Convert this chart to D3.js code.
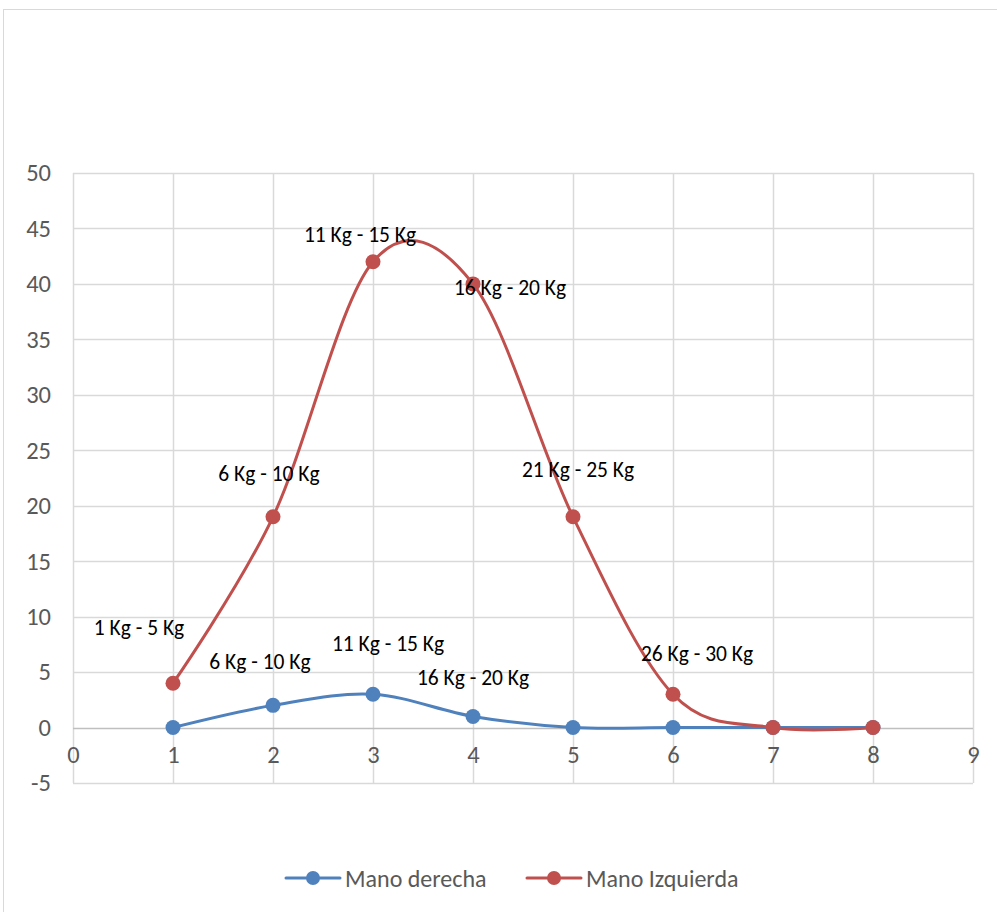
<!DOCTYPE html>
<html><head><meta charset="utf-8">
<script src="https://cdn.jsdelivr.net/npm/d3@7/dist/d3.min.js"></script>
<style>body{margin:0;background:#fff;}svg{display:block;font-family:Carlito,Calibri,Lato,"Open Sans","Noto Sans",sans-serif;}</style>
</head><body><svg id="c" width="997" height="912"></svg>
<script>
const xValues = [1,2,3,4,5,6,7,8];
const categories = ["1 Kg - 5 Kg","6 Kg - 10 Kg","11 Kg - 15 Kg","16 Kg - 20 Kg","21 Kg - 25 Kg","26 Kg - 30 Kg","",""];
const manoDerecha = [0,2,3,1,0,0,0,0];
const manoIzquierda = [4,19,42,40,19,3,0,0];
const xTicks = [0,1,2,3,4,5,6,7,8,9];
const yTicks = [-5,0,5,10,15,20,25,30,35,40,45,50];
const seriesNames = ["Mano derecha","Mano Izquierda"];
const colors = ["#4f81bd","#c0504d"];
// label layout: [series, index, dx, dy]
const labelLayout = [
  [1,0,-34,-55],[1,1,-4,-43],[1,2,-13,-27],[1,3,37,4],[1,4,5,-47],[1,5,24,-40],
  [0,1,-13,-43],[0,2,15,-50],[0,3,0,-38]
];

const svg = d3.select("#c");
svg.append("rect").attr("x",3.5).attr("y",9.5).attr("width",1000).attr("height",910)
  .attr("fill","#fff").attr("stroke","#d9d9d9").attr("stroke-width",1);

const x = d3.scaleLinear().domain([0,9]).range([73,973]);
const y = d3.scaleLinear().domain([-5,50]).range([783,173]);

const g = svg.append("g");
g.selectAll(".vg").data(xTicks).enter().append("line")
  .attr("x1",d=>Math.round(x(d))+0.5).attr("x2",d=>Math.round(x(d))+0.5)
  .attr("y1",y(50)).attr("y2",y(-5)).attr("stroke","#d9d9d9").attr("stroke-width",1.5);
g.selectAll(".hg").data(yTicks).enter().append("line")
  .attr("x1",x(0)).attr("x2",x(9))
  .attr("y1",d=>Math.round(y(d))+0.5).attr("y2",d=>Math.round(y(d))+0.5)
  .attr("stroke",d=>d===0?"#bfbfbf":"#d9d9d9").attr("stroke-width",1.5);

const yAxis = d3.axisLeft(y).tickValues(yTicks).tickSize(0).tickPadding(22).tickFormat(d=>String(d));
const ya = g.append("g").attr("transform",`translate(${x(0)},0)`).call(yAxis)
  .attr("font-family",null).attr("font-size",null);
ya.select(".domain").remove();
ya.selectAll("text").attr("font-size",24.5).attr("fill","#595959");

const xAxis = d3.axisBottom(x).tickValues(xTicks).tickSize(0).tickPadding(18.5).tickFormat(d=>String(d));
const xa = g.append("g").attr("transform",`translate(0,${y(0)})`).call(xAxis)
  .attr("font-family",null).attr("font-size",null);
xa.select(".domain").remove();
xa.selectAll("text").attr("font-size",24.5).attr("fill","#595959");

const seriesData = [manoDerecha, manoIzquierda];
const line = d3.line().x((d,i)=>x(xValues[i])).y(d=>y(d)).curve(d3.curveCardinal.tension(0));
seriesData.forEach((s,k)=>{
  g.append("path").datum(s).attr("d",line).attr("fill","none")
    .attr("stroke",colors[k]).attr("stroke-width",3).attr("stroke-linecap","round");
});
seriesData.forEach((s,k)=>{
  g.selectAll(".m"+k).data(s).enter().append("circle")
    .attr("cx",(d,i)=>x(xValues[i])).attr("cy",d=>y(d)).attr("r",7.5).attr("fill",colors[k]);
});

labelLayout.forEach(([k,i,dx,dy])=>{
  g.append("text").attr("x",x(xValues[i])+dx).attr("y",y(seriesData[k][i])+dy)
    .attr("text-anchor","middle").attr("dominant-baseline","central")
    .attr("font-size",21.5).attr("fill","#000").text(categories[i]);
});

const legX = [286,527];
seriesNames.forEach((n,k)=>{
  const lg = svg.append("g");
  lg.append("line").attr("x1",legX[k]).attr("x2",legX[k]+54).attr("y1",878).attr("y2",878)
    .attr("stroke",colors[k]).attr("stroke-width",3).attr("stroke-linecap","round");
  lg.append("circle").attr("cx",legX[k]+27).attr("cy",878).attr("r",7).attr("fill",colors[k]);
  lg.append("text").attr("x",legX[k]+59).attr("y",878).attr("dominant-baseline","central")
    .attr("font-size",24).attr("fill","#595959").text(n);
});
</script></body></html>
